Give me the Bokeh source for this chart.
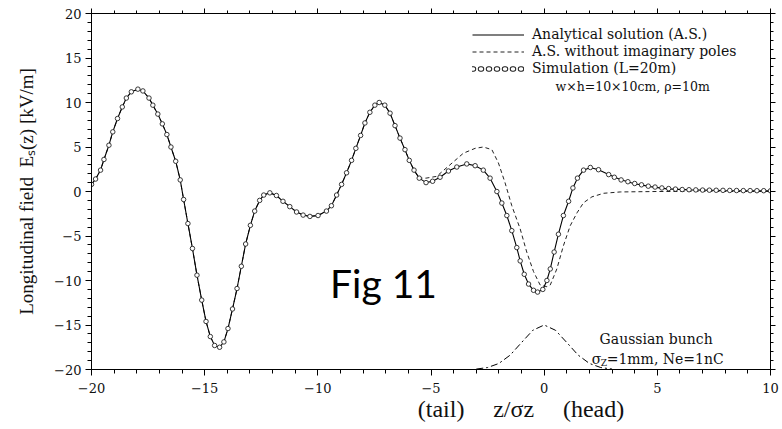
from bokeh.plotting import figure
from bokeh.models import (Range1d, LinearAxis, FixedTicker, Legend, LegendItem,
                          CustomLabelingPolicy)
from bokeh.core.properties import value
from bokeh.embed import file_html
from bokeh.resources import INLINE

# ---------------- data ----------------
# Analytical solution (A.S.)
as_z = [-20.0, -19.82, -19.6, -19.45, -19.23, -19.06, -18.85, -18.64, -18.46, -18.24,
        -17.95, -17.73, -17.46, -17.29, -17.07, -16.87, -16.67, -16.49, -16.28, -16.08,
        -15.93, -15.74, -15.54, -15.34, -15.13, -14.94, -14.75, -14.56, -14.34, -14.15,
        -13.97, -13.77, -13.57, -13.38, -13.19, -12.98, -12.79, -12.57, -12.39, -12.12,
        -11.83, -11.54, -11.24, -10.94, -10.65, -10.35, -9.99, -9.62, -9.4, -9.17,
        -8.95, -8.73, -8.51, -8.32, -8.11, -7.92, -7.7, -7.48, -7.29, -7.04,
        -6.81, -6.59, -6.37, -6.15, -5.96, -5.75, -5.52, -5.22, -4.93, -4.6,
        -4.23, -3.86, -3.42, -3.05, -2.69, -2.39, -2.09, -1.87, -1.65, -1.43,
        -1.21, -1.06, -0.88, -0.69, -0.47, -0.29, -0.06, 0.12, 0.27, 0.44,
        0.63, 0.85, 1.08, 1.27, 1.47, 1.74, 2.04, 2.4, 2.85, 3.36,
        3.95, 4.69, 5.43, 6.46, 7.9, 10.0]
as_e = [0.8, 1.4, 2.4, 3.6, 5.2, 6.7, 8.2, 9.5, 10.5, 11.2,
        11.5, 11.3, 10.5, 9.7, 8.7, 7.6, 6.4, 5.0, 3.4, 1.3,
        -0.9, -3.6, -6.4, -9.4, -12.2, -14.6, -16.3, -17.3, -17.5, -16.9,
        -15.4, -13.2, -10.9, -8.4, -5.9, -3.8, -2.2, -1.0, -0.4, -0.15,
        -0.45, -1.1, -1.7, -2.3, -2.65, -2.8, -2.7, -2.2, -1.6, -0.4,
        0.8, 2.1, 3.5, 4.85, 6.3, 7.7, 8.9, 9.7, 10.0, 9.7,
        8.8, 7.4, 6.0, 4.7, 3.5, 2.4, 1.5, 1.0, 1.15, 1.6,
        2.3, 2.75, 3.1, 2.9, 2.4, 1.5, 0.0, -1.3, -2.7, -4.4,
        -6.3, -7.8, -9.3, -10.4, -11.1, -11.3, -11.0, -10.0, -8.7, -6.8,
        -4.8, -2.7, -1.1, 0.4, 1.5, 2.4, 2.7, 2.45, 1.9, 1.35,
        0.9, 0.55, 0.3, 0.18, 0.12, 0.08]

# Simulation (L=20m): markers, same as A.S. up to z=2.85, then the tail
sim_head_count = 99
sim_tail_z = [3.1, 3.4, 3.7, 4.0, 4.3, 4.6, 4.9, 5.2, 5.5, 5.8, 6.1, 6.4,
              6.7, 7.0, 7.3, 7.6, 7.9, 8.2, 8.5, 8.8, 9.1, 9.4, 9.7, 10.0]
sim_tail_e = [1.6, 1.3, 1.1, 0.9, 0.75, 0.6, 0.5, 0.4, 0.33, 0.27, 0.22, 0.2,
              0.18, 0.16, 0.15, 0.14, 0.13, 0.12, 0.11, 0.1, 0.1, 0.09, 0.09, 0.08]

# A.S. without imaginary poles: same as A.S. up to z=-5.52, then differs
nip_head_count = 67
nip_tail_z = [-5.22, -4.75, -4.16, -3.57, -3.05, -2.69, -2.31, -2.02, -1.73, -1.43,
              -1.06, -0.77, -0.47, -0.18, 0.12, 0.27, 0.56, 0.85, 1.15, 1.45,
              1.74, 2.11, 2.63, 3.36, 5.0, 10.0]
nip_tail_e = [1.5, 1.7, 3.0, 4.3, 4.85, 5.0, 4.7, 3.2, 1.0, -1.6,
              -4.2, -6.8, -9.0, -10.5, -10.7, -10.5, -8.7, -6.1, -3.85, -2.4,
              -1.26, -0.6, -0.2, -0.05, 0.0, 0.0]

# Gaussian bunch profile (drawn at the bottom)
bunch_z = [-3.0, -2.5, -2.0, -1.5, -1.0, -0.5, 0.0, 0.5, 1.0, 1.5, 2.0, 2.5, 3.0]
bunch_e = [-19.95, -19.78, -19.32, -18.38, -16.97, -15.59, -15.0,
           -15.59, -16.97, -18.38, -19.32, -19.78, -19.95]

x_ticks = [-20, -15, -10, -5, 0, 5, 10]
x_tick_labels = ["\u221220", "\u221215", "\u221210", "\u22125", "0", "5", "10"]
y_ticks = [-20, -15, -10, -5, 0, 5, 10, 15, 20]
y_tick_labels = ["\u221220", "\u221215", "\u221210", "\u22125", "0", "5", "10", "15", "20"]
x_minor = list(range(-20, 11))
y_minor = list(range(-20, 21))

sim_z = as_z[:sim_head_count] + sim_tail_z
sim_e = as_e[:sim_head_count] + sim_tail_e
nip_z = as_z[:nip_head_count] + nip_tail_z
nip_e = as_e[:nip_head_count] + nip_tail_e

# ---------------- figure ----------------
p = figure(frame_width=679, frame_height=356, output_backend="svg", toolbar_location=None,
           x_range=Range1d(-20, 10), y_range=Range1d(-20, 20),
           min_border_left=91, min_border_right=12, min_border_top=13, min_border_bottom=60)
p.grid.visible = False
p.outline_line_color = "black"
p.background_fill_color = "white"
p.border_fill_color = "white"

bottom_ax = p.below[0]
left_ax = p.left[0]

hide_all = CustomLabelingPolicy(
    code="for (const i of Array.from(indices.ones())) { indices.set(i, false) } return indices")


def style(ax, ticks, minor, labels=None, tick_out=6, minor_out=4):
    ax.ticker = FixedTicker(ticks=ticks, minor_ticks=minor)
    ax.axis_line_color = "black"
    ax.major_tick_line_color = "black"
    ax.minor_tick_line_color = "black"
    ax.major_tick_in = 0
    ax.major_tick_out = tick_out
    ax.minor_tick_in = 0
    ax.minor_tick_out = minor_out
    if labels is not None:
        ax.major_label_overrides = dict(zip(ticks, labels))
        ax.major_label_text_font = "DejaVu Serif"
        ax.major_label_text_font_size = "13px"
        ax.major_label_text_color = "#111111"
    else:
        ax.major_label_policy = hide_all
        ax.major_label_text_font_size = "0px"
        ax.major_label_standoff = 0


style(bottom_ax, x_ticks, x_minor, x_tick_labels)
style(left_ax, y_ticks, y_minor, y_tick_labels)
bottom_ax.major_label_standoff = 7
left_ax.major_label_standoff = 4

# axis titles
em, en, thin = "\u2003", "\u2002", "\u2009"
left_ax.axis_label = "Longitudinal field" + en + "E\u209b(z) [kV/m]"
left_ax.axis_label_text_font = "Liberation Serif"
left_ax.axis_label_text_font_size = "19px"
left_ax.axis_label_text_font_style = "normal"
left_ax.axis_label_text_color = "#111111"
left_ax.axis_label_standoff = 14
bottom_ax.axis_label = (em * 7 + en + "(tail)" + em + thin + "z/\u03c3\u1d22"
                        + em + thin + "(head)")
bottom_ax.axis_label_text_font = "Liberation Serif"
bottom_ax.axis_label_text_font_size = "24px"
bottom_ax.axis_label_text_font_style = "normal"
bottom_ax.axis_label_text_color = "#111111"
bottom_ax.axis_label_standoff = 0

top_ax = LinearAxis()
right_ax = LinearAxis()
style(top_ax, x_ticks, x_minor, tick_out=5, minor_out=3)
style(right_ax, y_ticks, y_minor, tick_out=5, minor_out=3)
p.add_layout(top_ax, "above")
p.add_layout(right_ax, "right")

r_bunch = p.line(bunch_z, bunch_e, line_color="black", line_width=1, line_dash="7 3 2 3")
r_nip = p.line(nip_z, nip_e, line_color="#222222", line_width=1, line_dash="4 3")
r_as = p.line(as_z, as_e, line_color="black", line_width=1.1)
r_sim = p.scatter(sim_z, sim_e, marker="circle", size=4.5, line_color="#222222",
                  fill_color="white", line_width=0.9)
# legend key for the simulation: a row of small open circles (hidden in the plot,
# drawn only by the legend)
r_sim_key_outer = p.line(sim_z, sim_e, line_color="#222222", line_width=5.5,
                         line_dash="1 7", line_cap="round", visible=False)
r_sim_key_inner = p.line(sim_z, sim_e, line_color="white", line_width=3.5,
                         line_dash="1 7", line_cap="round", visible=False)

legend = Legend(items=[
    LegendItem(label="Analytical solution (A.S.)", renderers=[r_as]),
    LegendItem(label="A.S. without imaginary poles", renderers=[r_nip]),
    LegendItem(label="Simulation (L=20m)", renderers=[r_sim_key_outer, r_sim_key_inner]),
], location=(381, 293), background_fill_alpha=0, border_line_color=None,
    padding=0, margin=0, spacing=1, glyph_width=52, glyph_height=15,
    label_height=15, label_standoff=8, label_text_font="DejaVu Serif",
    label_text_font_size="14px", label_text_color="#111111",
    inactive_fill_alpha=0)
p.add_layout(legend)

serif = value("DejaVu Serif")
p.text(x=[0.5], y=[11.75], text=["w\u00d7h=10\u00d710cm, \u03c1=10m"], text_font=serif,
       text_font_size="12.5px", text_baseline="middle", text_color="#111111")
p.text(x=[2.45], y=[-16.6], text=["Gaussian bunch"], text_font=serif,
       text_font_size="14px", text_baseline="middle", text_color="#111111")
p.text(x=[2.1], y=[-18.8], text=["\u03c3"], text_font=serif,
       text_font_size="14px", text_baseline="middle", text_color="#111111")
p.text(x=[2.1], y=[-18.8], text=["Z"], text_font=serif, x_offset=9, y_offset=4,
       text_font_size="9px", text_baseline="middle", text_color="#111111")
p.text(x=[2.1], y=[-18.8], text=["=1mm, Ne=1nC"], text_font=serif, x_offset=15,
       text_font_size="14px", text_baseline="middle", text_color="#111111")

p.text(x=[-7.1], y=[-10.3], text=["Fig 11"], text_font=value("Lato"),
       text_font_size="39px", text_align="center", text_baseline="middle",
       text_color="black")

open("out.html", "w").write(file_html(p, INLINE))
